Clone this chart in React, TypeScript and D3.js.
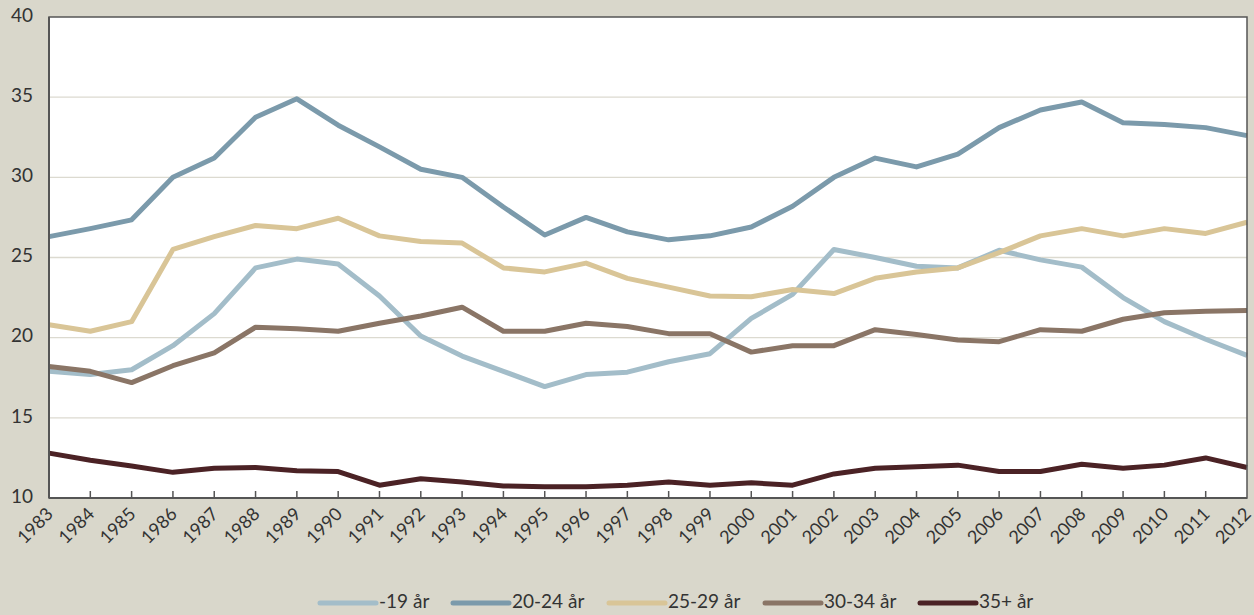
import * as d3 from 'd3';

const years = d3.range(1983, 2013);

const under19 = [17.9, 17.7, 18.0, 19.5, 21.5, 24.35, 24.9, 24.6, 22.6, 20.1, 18.85, 17.9, 16.95, 17.7, 17.85, 18.5, 19.0, 21.2, 22.7, 25.5, 25.0, 24.45, 24.35, 25.45, 24.85, 24.4, 22.5, 21.0, 19.9, 18.9];
const age2024 = [26.3, 26.8, 27.35, 30.0, 31.2, 33.75, 34.9, 33.25, 31.9, 30.5, 30.0, 28.15, 26.4, 27.5, 26.6, 26.1, 26.35, 26.9, 28.2, 30.0, 31.2, 30.65, 31.45, 33.1, 34.2, 34.7, 33.4, 33.3, 33.1, 32.6];
const age2529 = [20.8, 20.4, 21.0, 25.5, 26.3, 27.0, 26.8, 27.45, 26.35, 26.0, 25.9, 24.35, 24.1, 24.65, 23.7, 23.15, 22.6, 22.55, 23.0, 22.75, 23.7, 24.1, 24.35, 25.3, 26.35, 26.8, 26.35, 26.8, 26.5, 27.2];
const age3034 = [18.2, 17.9, 17.2, 18.25, 19.05, 20.65, 20.55, 20.4, 20.9, 21.35, 21.9, 20.4, 20.4, 20.9, 20.7, 20.25, 20.25, 19.1, 19.5, 19.5, 20.5, 20.2, 19.85, 19.75, 20.5, 20.4, 21.15, 21.55, 21.65, 21.7];
const age35 = [12.8, 12.35, 12.0, 11.6, 11.85, 11.9, 11.7, 11.65, 10.8, 11.2, 11.0, 10.75, 10.7, 10.7, 10.8, 11.0, 10.8, 10.95, 10.8, 11.5, 11.85, 11.95, 12.05, 11.65, 11.65, 12.1, 11.85, 12.05, 12.5, 11.9];

const seriesNames = ['-19 år', '20-24 år', '25-29 år', '30-34 år', '35+ år'];
const seriesValues = [under19, age2024, age2529, age3034, age35];
const seriesColors = ['#a3bdc9', '#7b9aab', '#d9c597', '#8a7566', '#4b2225'];
const yTicks = [10, 15, 20, 25, 30, 35, 40];

const W = 1254;
const H = 615;
const margin = { top: 17, right: 7, bottom: 117, left: 49 };
const FONT = 'Lato, "DejaVu Sans", sans-serif';

export default function App() {
  const x = d3.scaleLinear()
    .domain([1983, 2012])
    .range([margin.left, W - margin.right]);
  const y = d3.scaleLinear()
    .domain([10, 40])
    .range([H - margin.bottom, margin.top]);

  const line = d3.line<number>()
    .x((_, i) => x(years[i]))
    .y(d => y(d));

  const legendX = [320, 453, 609, 765, 920];
  const legendY = 603;

  return (
    <div style={{ position: 'fixed', left: 0, top: 0, width: W, height: H }}>
      <svg width={W} height={H} style={{ display: 'block' }}>
        <rect x={0} y={0} width={W} height={H} fill="#d9d7cb" />
        <rect
          x={margin.left}
          y={margin.top}
          width={W - margin.left - margin.right}
          height={H - margin.top - margin.bottom}
          fill="#ffffff"
        />

        {/* gridlines */}
        {yTicks.slice(1, -1).map(t => (
          <line key={t} x1={margin.left} x2={W - margin.right} y1={y(t)} y2={y(t)}
            stroke="#dcdad0" strokeWidth={1.3} />
        ))}

        {/* series */}
        {seriesValues.map((vals, i) => (
          <path key={seriesNames[i]} d={line(vals) || ''} fill="none"
            stroke={seriesColors[i]} strokeWidth={5} strokeLinejoin="round" />
        ))}

        {/* frame */}
        <rect
          x={margin.left}
          y={margin.top}
          width={W - margin.left - margin.right}
          height={H - margin.top - margin.bottom}
          fill="none"
          stroke="#555"
          strokeWidth={1.5}
        />
        <line x1={margin.left} x2={W - margin.right} y1={y(10)} y2={y(10)} stroke="#555" strokeWidth={2} />
        <line x1={margin.left} x2={margin.left} y1={margin.top} y2={y(10)} stroke="#555" strokeWidth={2} />

        {/* x ticks */}
        {years.slice(1, -1).map(yr => (
          <line key={yr} x1={x(yr)} x2={x(yr)} y1={y(10)} y2={y(10) - 7} stroke="#555" strokeWidth={1.5} />
        ))}

        {/* y labels */}
        {yTicks.map(t => (
          <text key={t} x={33} y={y(t)} textAnchor="end" dominantBaseline="middle"
            fontFamily={FONT} fontSize={19} fill="#333">{t}</text>
        ))}

        {/* x labels */}
        {years.map(yr => (
          <text key={yr}
            transform={`translate(${x(yr) + 2}, ${y(10) + 14}) rotate(-45)`}
            textAnchor="end" dominantBaseline="middle"
            fontFamily={FONT} fontSize={18} fill="#333">{yr}</text>
        ))}

        {/* legend */}
        {seriesNames.map((name, i) => (
          <g key={name}>
            <line x1={legendX[i]} x2={legendX[i] + 56} y1={legendY} y2={legendY}
              stroke={seriesColors[i]} strokeWidth={5} strokeLinecap="round" />
            <text x={legendX[i] + 59} y={legendY} dominantBaseline="middle"
              fontFamily={FONT} fontSize={19} fill="#333">{name}</text>
          </g>
        ))}
      </svg>
    </div>
  );
}
